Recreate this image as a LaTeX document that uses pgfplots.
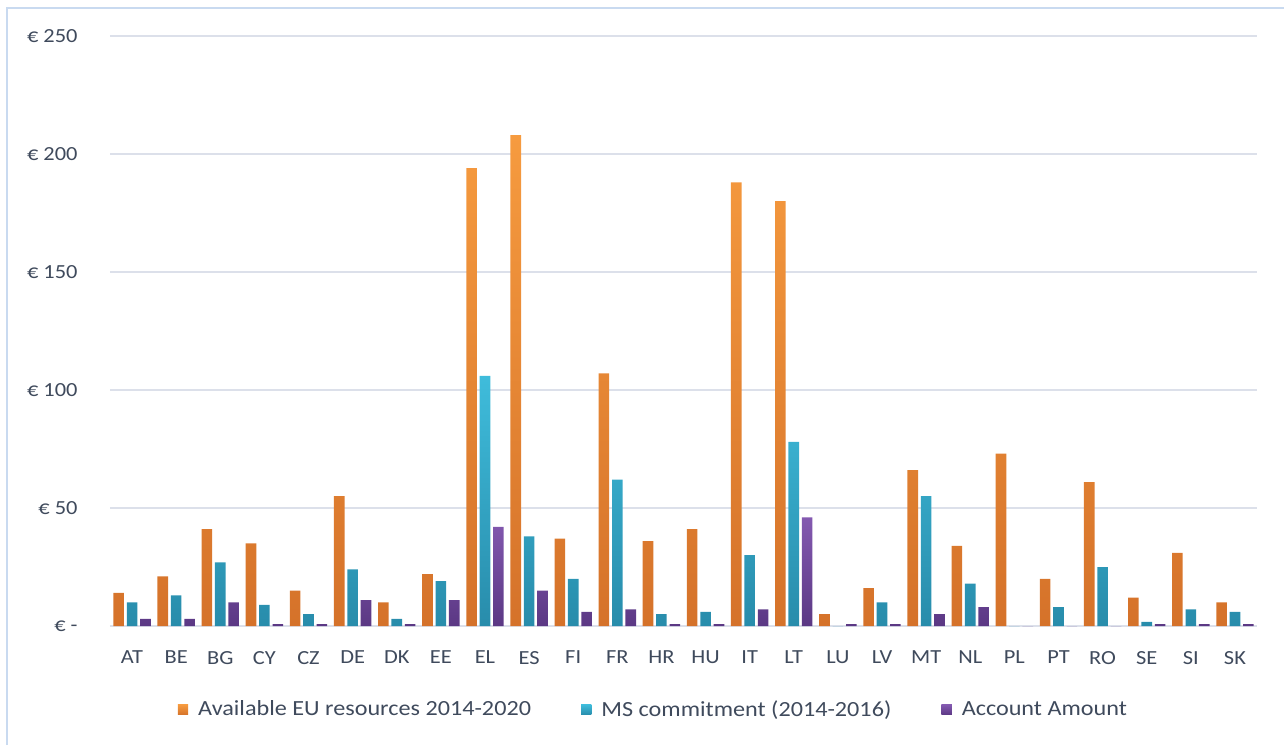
\documentclass[border=0pt]{standalone}
\usepackage{pgfplots}
\usepackage{pgfplotstable}
\pgfplotsset{compat=1.18}
\usepackage{fontspec}
\setmainfont{Carlito}[FakeStretch=1.12]

\definecolor{orTop}{HTML}{F69B3F}
\definecolor{orBot}{HTML}{D5722A}
\definecolor{cyTop}{HTML}{3FBCDB}
\definecolor{cyBot}{HTML}{288CAB}
\definecolor{puTop}{HTML}{8459B0}
\definecolor{puBot}{HTML}{5B3884}
\definecolor{txt}{HTML}{3F4A5C}
\definecolor{grid}{HTML}{DCE0EA}
\definecolor{frame}{HTML}{C9DAF0}

% values in EUR million
\pgfplotstableread{
x lbl avail ms acc
0  AT 14 10 3
1  BE 21 13 3
2  BG 41 27 10
3  CY 35 9 0.8
4  CZ 15 5 0.8
5  DE 55 24 11
6  DK 10 3 0.8
7  EE 22 19 11
8  EL 194 106 42
9  ES 208 38 15
10 FI 37 20 6
11 FR 107 62 7
12 HR 36 5 0.8
13 HU 41 6 0.8
14 IT 188 30 7
15 LT 180 78 46
16 LU 5 0 0.8
17 LV 16 10 0.8
18 MT 66 55 5
19 NL 34 18 8
20 PL 73 0 0
21 PT 20 8 0
22 RO 61 25 0
23 SE 12 1.7 0.8
24 SI 31 7 0.8
25 SK 10 6 0.8
}\data

\begin{document}
\begin{tikzpicture}
\path[use as bounding box] (-55pt,-59.5pt) rectangle (587pt,313pt);
\draw[frame, line width=0.8pt] (-51.5pt,-59.5pt) -- (-51.5pt,309pt) -- (587pt,309pt);
\begin{axis}[
  scale only axis,
  width=573.5pt, height=295pt,
  xmin=-0.5, xmax=25.5,
  ymin=0, ymax=250,
  ybar=1.4pt,
  bar width=5.3pt,
  axis x line*=bottom,
  axis y line*=left,
  x axis line style={draw=grid, line width=0.8pt},
  y axis line style={draw=none},
  ymajorgrids,
  grid style={draw=grid, line width=0.8pt},
  major tick length=0pt,
  xtick=data,
  xticklabels from table={\data}{lbl},
  ytick={0,50,...,250},
  yticklabels={€ -\hspace{5pt}, € 50, € 100, € 150, € 200, € 250},
  ticklabel style={font=\fontsize{10pt}{12pt}\selectfont, text=txt},
  xticklabel style={yshift=-9pt},
  yticklabel style={anchor=east, xshift=-12.7pt},
  legend columns=3,
  legend style={at={(0.4746,-0.142)}, anchor=center, draw=none, fill=none,
    font=\fontsize{10.8pt}{12pt}\selectfont, text=txt,
    /tikz/every odd column/.append style={column sep=3pt},
    /tikz/every even column/.append style={column sep=23pt}},
  legend image code/.code={\path[#1, draw=none] (0pt,-2.6pt) rectangle (5.2pt,2.6pt);},
]
\addplot[draw=none, top color=orTop, bottom color=orBot] table[x=x, y=avail] {\data};
\addplot[draw=none, top color=cyTop, bottom color=cyBot] table[x=x, y=ms] {\data};
\addplot[draw=none, top color=puTop, bottom color=puBot] table[x=x, y=acc] {\data};
\legend{Available EU resources 2014-2020, MS commitment (2014-2016), Account Amount}
\end{axis}
\end{tikzpicture}
\end{document}
